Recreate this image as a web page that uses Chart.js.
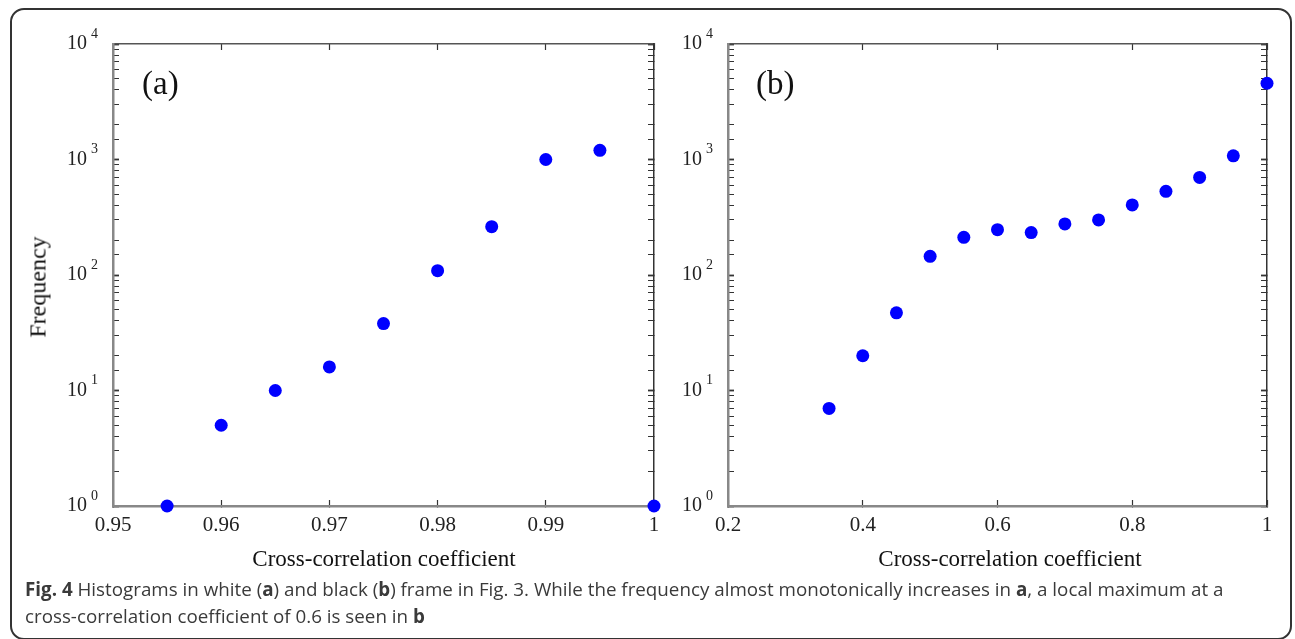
<!DOCTYPE html>
<html>
<head>
<meta charset="utf-8">
<script src="https://cdn.jsdelivr.net/npm/chart.js@4.4.1/dist/chart.umd.min.js"></script>
<style>
  body { margin: 0; width: 1295px; height: 639px; background: #fff; overflow: hidden; position: relative; font-family: "Liberation Serif", serif; }
  .frame { position: absolute; left: 10px; top: 8px; width: 1282px; height: 632px; box-sizing: border-box; border: 2px solid #333; border-radius: 14px; }
  canvas { position: absolute; top: 0; }
  #chartA { left: 0; }
  #chartB { left: 640px; }
  .tag { position: absolute; top: 67px; font-size: 33px; line-height: 1; color: #111; }
  .xtitle { position: absolute; top: 546px; font-size: 23px; color: #111; white-space: nowrap; transform: translateX(-50%); }
  .ytitle { position: absolute; left: 38px; top: 287px; font-size: 24px; color: #111; white-space: nowrap; transform: translate(-50%, -50%) rotate(-90deg); }
  .caption { position: absolute; left: 25px; top: 576px; font-family: "Open Sans", sans-serif; font-size: 18.8px; line-height: 27px; color: #3a3a3a; white-space: nowrap; }
</style>
</head>
<body>
<div class="frame"></div>
<canvas id="chartA" width="680" height="580"></canvas>
<canvas id="chartB" width="655" height="580"></canvas>
<div class="tag" style="left:142px">(a)</div>
<div class="tag" style="left:756px">(b)</div>
<div class="ytitle">Frequency</div>
<div class="xtitle" style="left:384px">Cross-correlation coefficient</div>
<div class="xtitle" style="left:1010px">Cross-correlation coefficient</div>
<div class="caption"><b>Fig. 4</b> Histograms in white (<b>a</b>) and black (<b>b</b>) frame in Fig. 3. While the frequency almost monotonically increases in <b>a</b>, a local maximum at a<br>cross-correlation coefficient of 0.6 is seen in <b>b</b></div>

<script>
// panel (a) - white frame
const ccA = [0.955, 0.96, 0.965, 0.97, 0.975, 0.98, 0.985, 0.99, 0.995, 1.0];
const freqA = [1, 5, 10, 16, 38, 109, 262, 1000, 1200, 1];

// panel (b) - black frame
const ccB = [0.35, 0.4, 0.45, 0.5, 0.55, 0.6, 0.65, 0.7, 0.75, 0.8, 0.85, 0.9, 0.95, 1.0];
const freqB = [7, 20, 47, 145, 212, 247, 233, 277, 300, 404, 530, 700, 1077, 4575];

// axis ranges
const xRangeA = [0.95, 1, 0.01];
const xRangeB = [0.2, 1, 0.2];
const yRange = [1, 10000];

const TICK = -6; // negative = ticks point into the plot
const serif = "'Liberation Serif', serif";

function isDecade(v) {
  const p = Math.log10(v);
  return Math.abs(p - Math.round(p)) < 1e-9;
}

// draws the small raised exponent after each "10"
const exponentPlugin = {
  id: "exponent",
  afterDraw(chart) {
    const s = chart.scales.y;
    const ctx = chart.ctx;
    ctx.save();
    ctx.font = "14px " + serif;
    ctx.fillStyle = "#222";
    ctx.textBaseline = "middle";
    ctx.textAlign = "left";
    s.ticks.forEach((t) => {
      if (!isDecade(t.value)) return;
      ctx.fillText(String(Math.round(Math.log10(t.value))), s.right - 22, s.getPixelForValue(t.value) - 10);
    });
    ctx.restore();
  },
};

function fixSize(prop, size) {
  return (scale) => { scale[prop] = size; };
}

function makePanel(id, xs, ys, xRange, leftW, rightW) {
  const ctx = document.getElementById(id);
  const bottomH = ctx.height - 506;

  const tickGrid = {
    drawOnChartArea: false,
    drawTicks: true,
    tickLength: TICK,
    tickColor: "#333",
    tickWidth: 1.2,
  };

  return new Chart(ctx, {
    type: "scatter",
    data: {
      datasets: [
        {
          data: xs.map((x, i) => ({ x: x, y: ys[i] })),
          backgroundColor: "#0000ff",
          borderWidth: 0,
          pointRadius: 6.5,
          clip: false,
        },
      ],
    },
    options: {
      responsive: false,
      animation: false,
      layout: { padding: 0 },
      plugins: { legend: { display: false }, tooltip: { enabled: false } },
      scales: {
        x: {
          type: "linear",
          position: "bottom",
          min: xRange[0],
          max: xRange[1],
          grid: tickGrid,
          border: { color: "#888", width: 2.5 },
          ticks: {
            stepSize: xRange[2],
            padding: 13,
            color: "#222",
            font: { family: serif, size: 21 },
            callback: (v) => String(+v.toFixed(2)),
          },
          afterFit: fixSize("height", bottomH),
        },
        xTop: {
          type: "linear",
          position: "top",
          min: xRange[0],
          max: xRange[1],
          grid: tickGrid,
          border: { color: "#555", width: 1.5 },
          ticks: { stepSize: xRange[2], display: false },
          afterFit: fixSize("height", 43),
        },
        y: {
          type: "logarithmic",
          position: "left",
          min: yRange[0],
          max: yRange[1],
          grid: Object.assign({}, tickGrid, {
            tickWidth: (c) => (c.tick && isDecade(c.tick.value) ? 1.8 : 1),
          }),
          border: { color: "#888", width: 2.5 },
          ticks: {
            autoSkip: false,
            padding: 32,
            color: "#222",
            font: { family: serif, size: 20 },
            callback: (v) => (isDecade(v) ? "10" : ""),
          },
          afterFit: fixSize("width", leftW),
        },
        yRight: {
          type: "logarithmic",
          position: "right",
          min: yRange[0],
          max: yRange[1],
          grid: Object.assign({}, tickGrid, {
            tickWidth: (c) => (c.tick && isDecade(c.tick.value) ? 1.8 : 1),
          }),
          border: { color: "#333", width: 1.5 },
          ticks: { autoSkip: false, display: false },
          afterFit: fixSize("width", rightW),
        },
      },
    },
    plugins: [exponentPlugin],
  });
}

makePanel("chartA", ccA, freqA, xRangeA, 113, 26);
makePanel("chartB", ccB, freqB, xRangeB, 88, 28);
</script>
</body>
</html>
